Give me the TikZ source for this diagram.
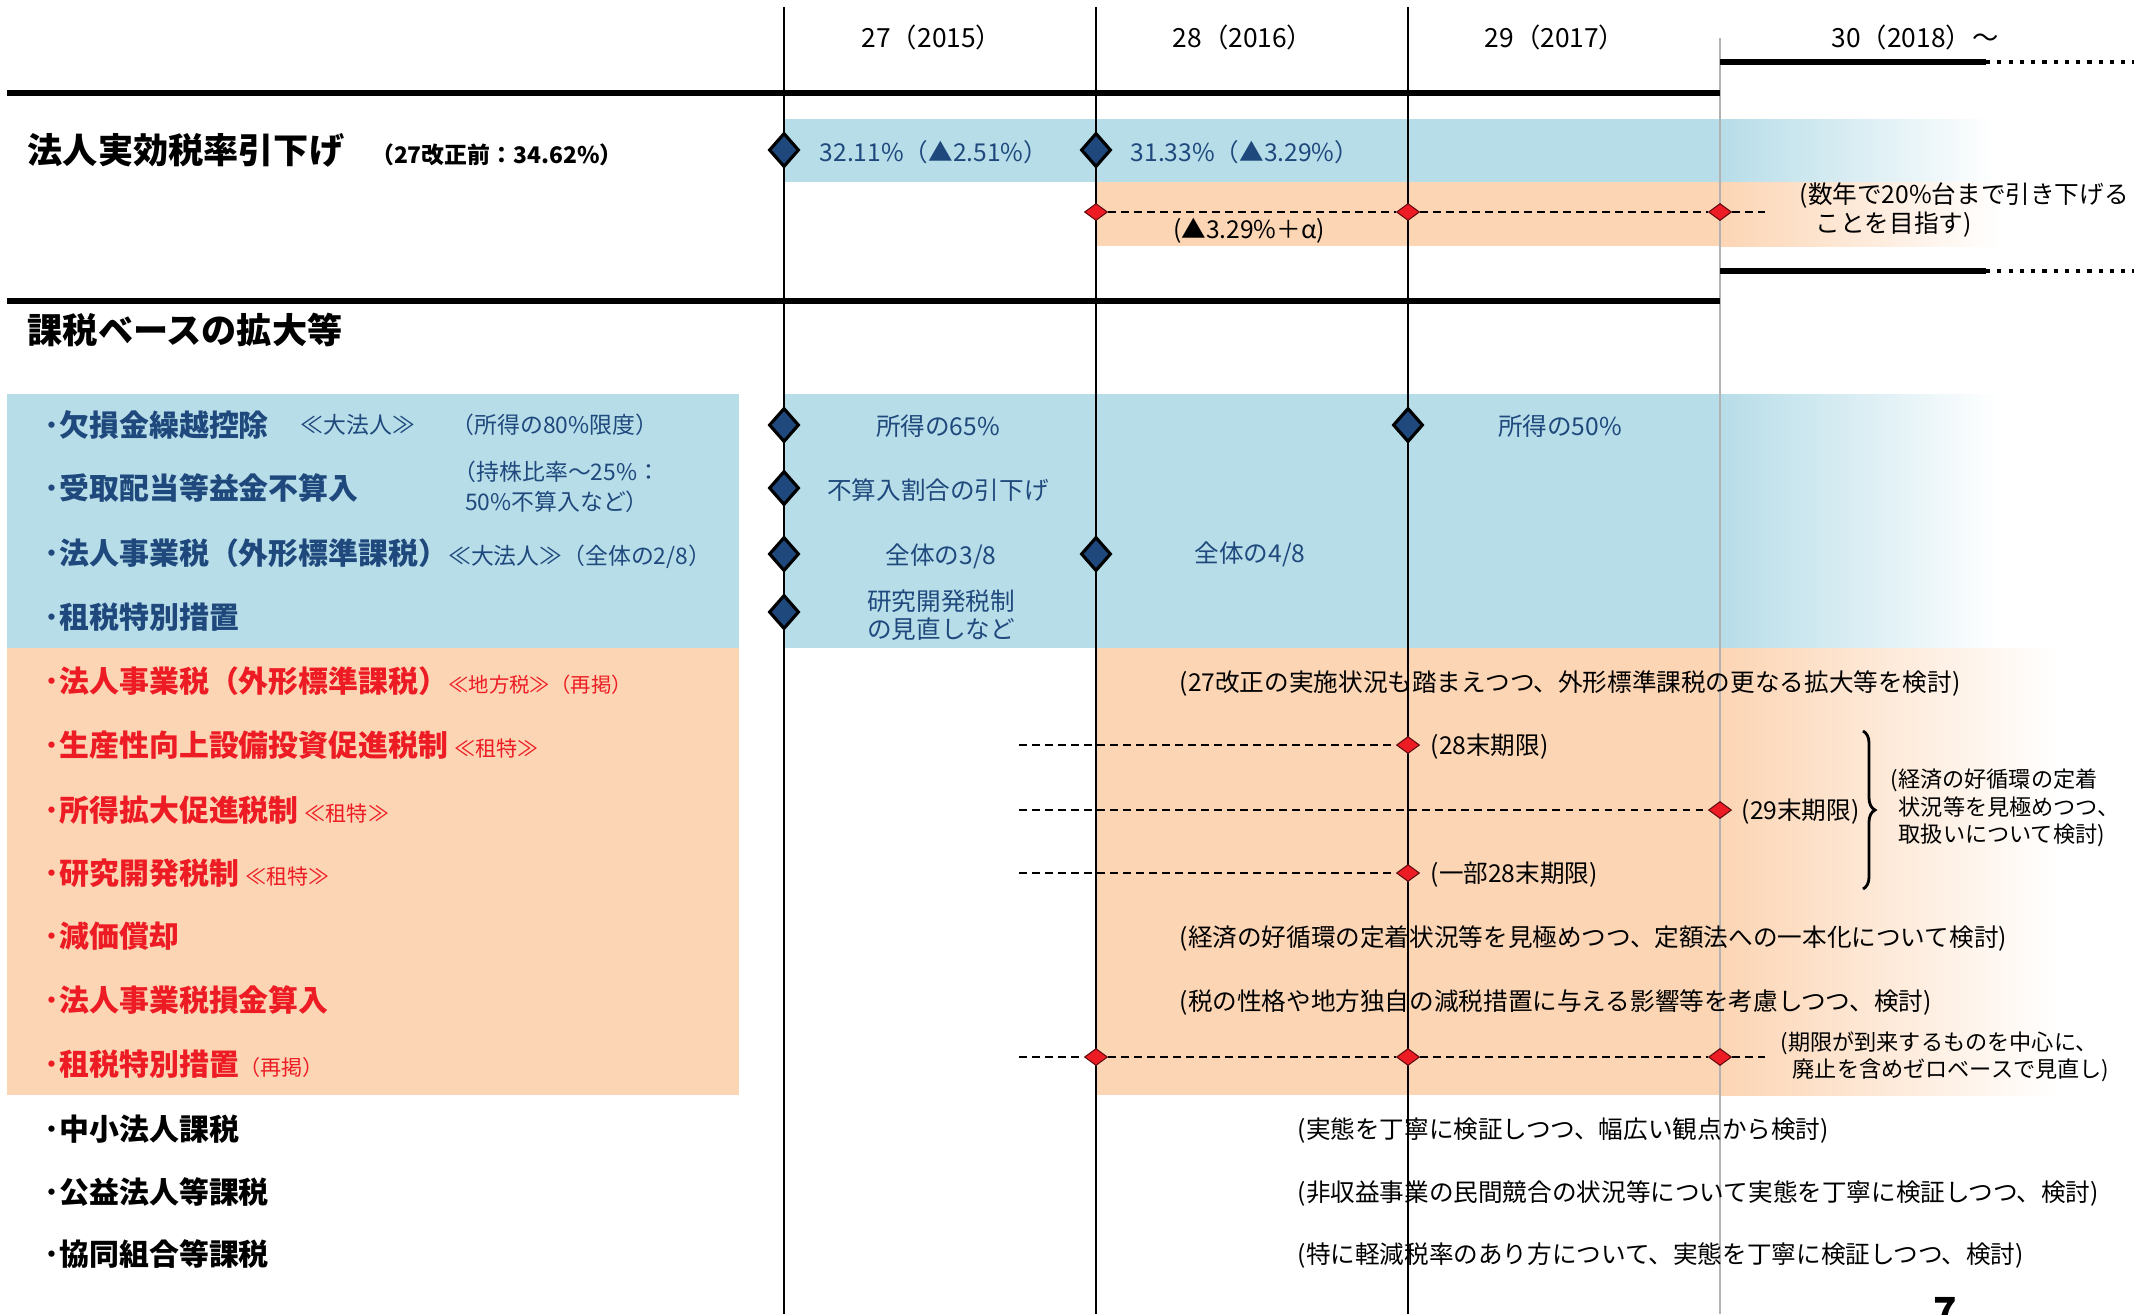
\documentclass[tikz,border=0pt]{standalone}
\usepackage{fontspec}
\setmainfont{Noto Sans CJK JP}
\usetikzlibrary{shapes.geometric, decorations.pathreplacing}
\definecolor{bandblue}{HTML}{B7DDE8}
\definecolor{bandorange}{HTML}{FCD5B4}
\definecolor{navy}{HTML}{1F497D}
\definecolor{taxred}{HTML}{ED1C24}
\newcommand{\fsz}[2]{\fontsize{#1}{#2}\selectfont}

\begin{document}
\begin{tikzpicture}[x=0.01cm, y=-0.01cm,
    bigdia/.style={diamond, draw=black, line width=0.9pt, fill=navy, inner sep=0pt,
      minimum width=0.30cm, minimum height=0.34cm},
    smalldia/.style={diamond, draw=black!60!taxred, line width=0.3pt, fill=taxred, inner sep=0pt,
      minimum width=0.23cm, minimum height=0.17cm},
    yearlbl/.style={inner sep=0pt, font=\fsz{7.5}{9}},
    headlbl/.style={anchor=west, inner sep=0pt, font=\bfseries\fsz{10}{12}},
    itemlbl/.style={anchor=west, inner sep=0pt, font=\bfseries\fsz{8.5}{10}},
    notelbl/.style={anchor=west, inner sep=0pt, font=\fsz{7}{8}, align=left},
    bluetxt/.style={text=navy, font=\fsz{7}{7.8}, align=center, inner sep=0pt},
    heavyrule/.style={line width=1.6pt},
    dashline/.style={dash pattern=on 2.2pt off 1.5pt, line width=0.7pt},
  ]
  \useasboundingbox (0,0) rectangle (2145,1314);

  % bands
  \fill[bandblue] (784,119) rectangle (1720,182);
  \shade[left color=bandblue, right color=white] (1720,119) rectangle (1997,182);
  \fill[bandorange] (1096,182) rectangle (1720,246);
  \shade[left color=bandorange, right color=white] (1720,182) rectangle (2000,246);
  \fill[bandblue] (7,394) rectangle (739,648);
  \fill[bandblue] (784,394) rectangle (1720,648);
  \shade[left color=bandblue, right color=white] (1720,394) rectangle (2000,648);
  \fill[bandorange] (7,648) rectangle (739,1095);
  \fill[bandorange] (1096,648) rectangle (1720,1095);
  \shade[left color=bandorange, right color=white] (1720,648) rectangle (2060,1095);

  % year grid
  \foreach \x in {784,1096,1408}
    \draw[line width=0.5pt] (\x,7) -- (\x,1314);
  \draw[black!30, line width=0.5pt] (1720,38) -- (1720,1314);

  \draw[heavyrule] (7,93) -- (1720,93);
  \draw[heavyrule] (7,301) -- (1720,301);
  \draw[heavyrule] (1720,62) -- (1986,62);
  \draw[dotted, line width=1.2pt] (1986,62) -- (2134,62);
  \draw[heavyrule] (1720,271) -- (1986,271);
  \draw[dotted, line width=1.2pt] (1986,271) -- (2134,271);

  % years
  \node[yearlbl] (y27) at (932,37) {27（2015）};
  \node[yearlbl] (y28) at (1243,37) {28（2016）};
  \node[yearlbl] (y29) at (1555,37) {29（2017）};
  \node[yearlbl] (y30) at (1915,37) {30（2018）～};

  % effective tax rate
  \node[headlbl] (ratehead) at (27,150) {法人実効税率引下げ\hspace{0.27cm}{\fsz{6.5}{8}（27改正前：34.62\%）}};
  \node[bigdia] (rate27) at (784,150) {};
  \node[bigdia] (rate28) at (1096,150) {};
  \node[bluetxt] (rate27txt) at (934,152) {32.11\%（▲2.51\%）};
  \node[bluetxt] (rate28txt) at (1245,152) {31.33\%（▲3.29\%）};
  \node[smalldia] (goal28) at (1096,212) {};
  \node[smalldia] (goal29) at (1408,212) {};
  \node[smalldia] (goal30) at (1720,212) {};
  \coordinate (goalend) at (1765,212);
  \draw[dashline] (goal28) -- (goal29) -- (goal30) -- (goalend);
  \node[inner sep=0pt, font=\fsz{7}{8}] (goaltxt) at (1249,231) {(▲3.29\%＋α)};
  \node[notelbl] (goalnote) at (1799,210) {(数年で20\%台まで引き下げる\\\hspace*{0.16cm}ことを目指す)};

  % tax base
  \node[headlbl] (basehead) at (27,330) {課税ベースの拡大等};

  \node[itemlbl, text=navy] (loss) at (44,425) {･欠損金繰越控除};
  \node[bluetxt, font=\fsz{6.5}{8}] (lossa) at (358,425) {≪大法人≫};
  \node[bluetxt, font=\fsz{6.5}{8}] (lossb) at (555,425) {（所得の80\%限度）};
  \node[itemlbl, text=navy] (divid) at (44,488) {･受取配当等益金不算入};
  \node[bluetxt, font=\fsz{6.5}{8.5}] (divida) at (557,487) {（持株比率～25\%：\\50\%不算入など）};
  \node[itemlbl, text=navy] (entbig) at (44,554) {･法人事業税（外形標準課税）{\mdseries\fsz{6.5}{8}≪大法人≫（全体の2/8）}};
  \node[itemlbl, text=navy] (special) at (44,617) {･租税特別措置};

  \node[bigdia] (loss27) at (784,425) {};
  \node[bigdia] (loss29) at (1408,425) {};
  \node[bigdia] (divid27) at (784,488) {};
  \node[bigdia] (entbig27) at (784,554) {};
  \node[bigdia] (entbig28) at (1096,554) {};
  \node[bigdia] (special27) at (784,612) {};
  \node[bluetxt] (loss27txt) at (938,426) {所得の65\%};
  \node[bluetxt] (loss29txt) at (1560,426) {所得の50\%};
  \node[bluetxt] (divid27txt) at (938,490) {不算入割合の引下げ};
  \node[bluetxt] (entbig27txt) at (941,556) {全体の3/8};
  \node[bluetxt] (entbig28txt) at (1250,554) {全体の4/8};
  \node[bluetxt] (special27txt) at (941,615) {研究開発税制\\の見直しなど};

  \node[itemlbl, text=taxred] (entloc) at (44,681) {･法人事業税（外形標準課税）{\mdseries\fsz{5.8}{7}≪地方税≫（再掲）}};
  \node[itemlbl, text=taxred] (prod) at (44,745) {･生産性向上設備投資促進税制\hspace{0.06cm}{\mdseries\fsz{6}{7}≪租特≫}};
  \node[itemlbl, text=taxred] (income) at (44,810) {･所得拡大促進税制\hspace{0.06cm}{\mdseries\fsz{6}{7}≪租特≫}};
  \node[itemlbl, text=taxred] (rnd) at (44,873) {･研究開発税制\hspace{0.06cm}{\mdseries\fsz{6}{7}≪租特≫}};
  \node[itemlbl, text=taxred] (deprec) at (44,936) {･減価償却};
  \node[itemlbl, text=taxred] (deduct) at (44,1000) {･法人事業税損金算入};
  \node[itemlbl, text=taxred] (specialb) at (44,1064) {･租税特別措置{\mdseries\fsz{6}{7}（再掲）}};
  \node[itemlbl] (sme) at (44,1129) {･中小法人課税};
  \node[itemlbl] (public) at (44,1192) {･公益法人等課税};
  \node[itemlbl] (coop) at (44,1254) {･協同組合等課税};

  \node[notelbl] (entloctxt) at (1179,683) {(27改正の実施状況も踏まえつつ、外形標準課税の更なる拡大等を検討)};

  \coordinate (prodstart) at (1019,745);
  \node[smalldia] (prod28) at (1408,745) {};
  \draw[dashline] (prodstart) -- (prod28);
  \node[notelbl] (prodtxt) at (1430,747) {(28末期限)};
  \coordinate (incomestart) at (1019,810);
  \node[smalldia] (income29) at (1720,810) {};
  \draw[dashline] (incomestart) -- (income29);
  \node[notelbl] (incometxt) at (1741,812) {(29末期限)};
  \coordinate (rndstart) at (1019,873);
  \node[smalldia] (rnd28) at (1408,873) {};
  \draw[dashline] (rndstart) -- (rnd28);
  \node[notelbl] (rndtxt) at (1430,875) {(一部28末期限)};

  \draw[decorate, decoration={brace, amplitude=0.12cm}, line width=0.8pt] (1863,731) -- (1863,889);
  \node[notelbl, font=\fsz{6.3}{7.8}] (bracetxt) at (1890,808) {(経済の好循環の定着\\\hspace*{0.08cm}状況等を見極めつつ、\\\hspace*{0.08cm}取扱いについて検討)};

  \node[notelbl] (deprectxt) at (1179,938) {(経済の好循環の定着状況等を見極めつつ、定額法への一本化について検討)};
  \node[notelbl] (deducttxt) at (1179,1002) {(税の性格や地方独自の減税措置に与える影響等を考慮しつつ、検討)};

  \coordinate (specialstart) at (1019,1057);
  \node[smalldia] (special28) at (1096,1057) {};
  \node[smalldia] (special29) at (1408,1057) {};
  \node[smalldia] (special30) at (1720,1057) {};
  \coordinate (specialend) at (1765,1057);
  \draw[dashline] (specialstart) -- (special28) -- (special29) -- (special30) -- (specialend);
  \node[notelbl, font=\fsz{6.3}{7.8}] (specialtxt) at (1780,1057) {(期限が到来するものを中心に、\\\hspace*{0.12cm}廃止を含めゼロベースで見直し)};

  \node[notelbl] (smetxt) at (1297,1130) {(実態を丁寧に検証しつつ、幅広い観点から検討)};
  \node[notelbl] (publictxt) at (1297,1193) {(非収益事業の民間競合の状況等について実態を丁寧に検証しつつ、検討)};
  \node[notelbl] (cooptxt) at (1297,1255) {(特に軽減税率のあり方について、実態を丁寧に検証しつつ、検討)};

  \node[anchor=north, inner sep=0pt, font=\bfseries\fsz{11}{12}] (pagenum) at (1945,1297) {7};
\end{tikzpicture}
\end{document}
